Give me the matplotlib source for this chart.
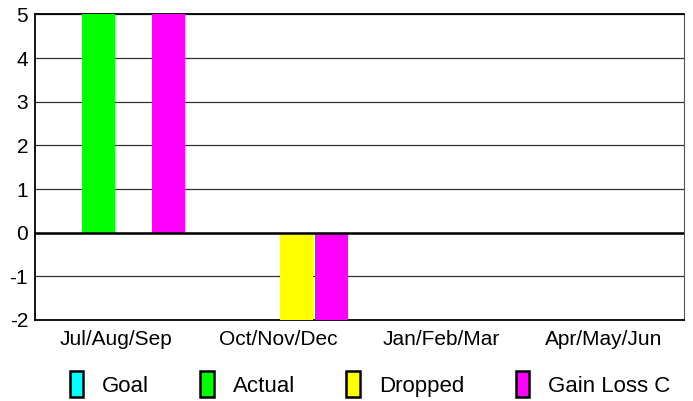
import matplotlib.pyplot as plt
import numpy as np
from matplotlib.patches import Patch

plt.rcParams['font.family'] = ['Liberation Sans', 'DejaVu Sans']
plt.rcParams['axes.unicode_minus'] = False

categories = ['Jul/Aug/Sep', 'Oct/Nov/Dec', 'Jan/Feb/Mar', 'Apr/May/Jun']
series = ['Goal', 'Actual', 'Dropped', 'Gain Loss C']
goal = [0, 0, 0, 0]
actual = [5, 0, 0, 0]
dropped = [0, -2, 0, 0]
gain_loss = [5, -2, 0, 0]
colors = ['#00ffff', '#00ff00', '#ffff00', '#ff00ff']

fig = plt.figure(figsize=(6.93, 4.01), dpi=100)
ax = fig.add_axes([0.0505, 0.202, 0.937, 0.762])

x = np.arange(len(categories))
step = 0.216
width = 0.203
for i, vals in enumerate([goal, actual, dropped, gain_loss]):
    ax.bar(x + (i - 1.5) * step, vals, width, color=colors[i], zorder=3)

ax.set_xlim(-0.5, 3.5)
ax.set_ylim(-2, 5)
ax.set_yticks(range(-2, 6))
ax.set_xticks(x)
ax.set_xticklabels(categories, fontsize=15)
ax.tick_params(axis='y', labelsize=15, length=0, pad=5)
ax.tick_params(axis='x', length=0, pad=7)
ax.grid(axis='y', color='#333333', linewidth=0.9, zorder=1)
ax.axhline(0, color='black', linewidth=1.8, zorder=4)
for s in ['left', 'top', 'bottom']:
    ax.spines[s].set_linewidth(1.3)
ax.spines['right'].set_color('#555555')

handles = [Patch(facecolor=c, edgecolor='black', linewidth=1.8) for c in colors]
fig.legend(handles, series, loc='center', bbox_to_anchor=(0.534, 0.042), ncol=4,
           frameon=False, fontsize=16, handlelength=0.62, handleheight=1.45,
           handletextpad=0.85, columnspacing=2.3)

fig.savefig('out.png', dpi=100)
